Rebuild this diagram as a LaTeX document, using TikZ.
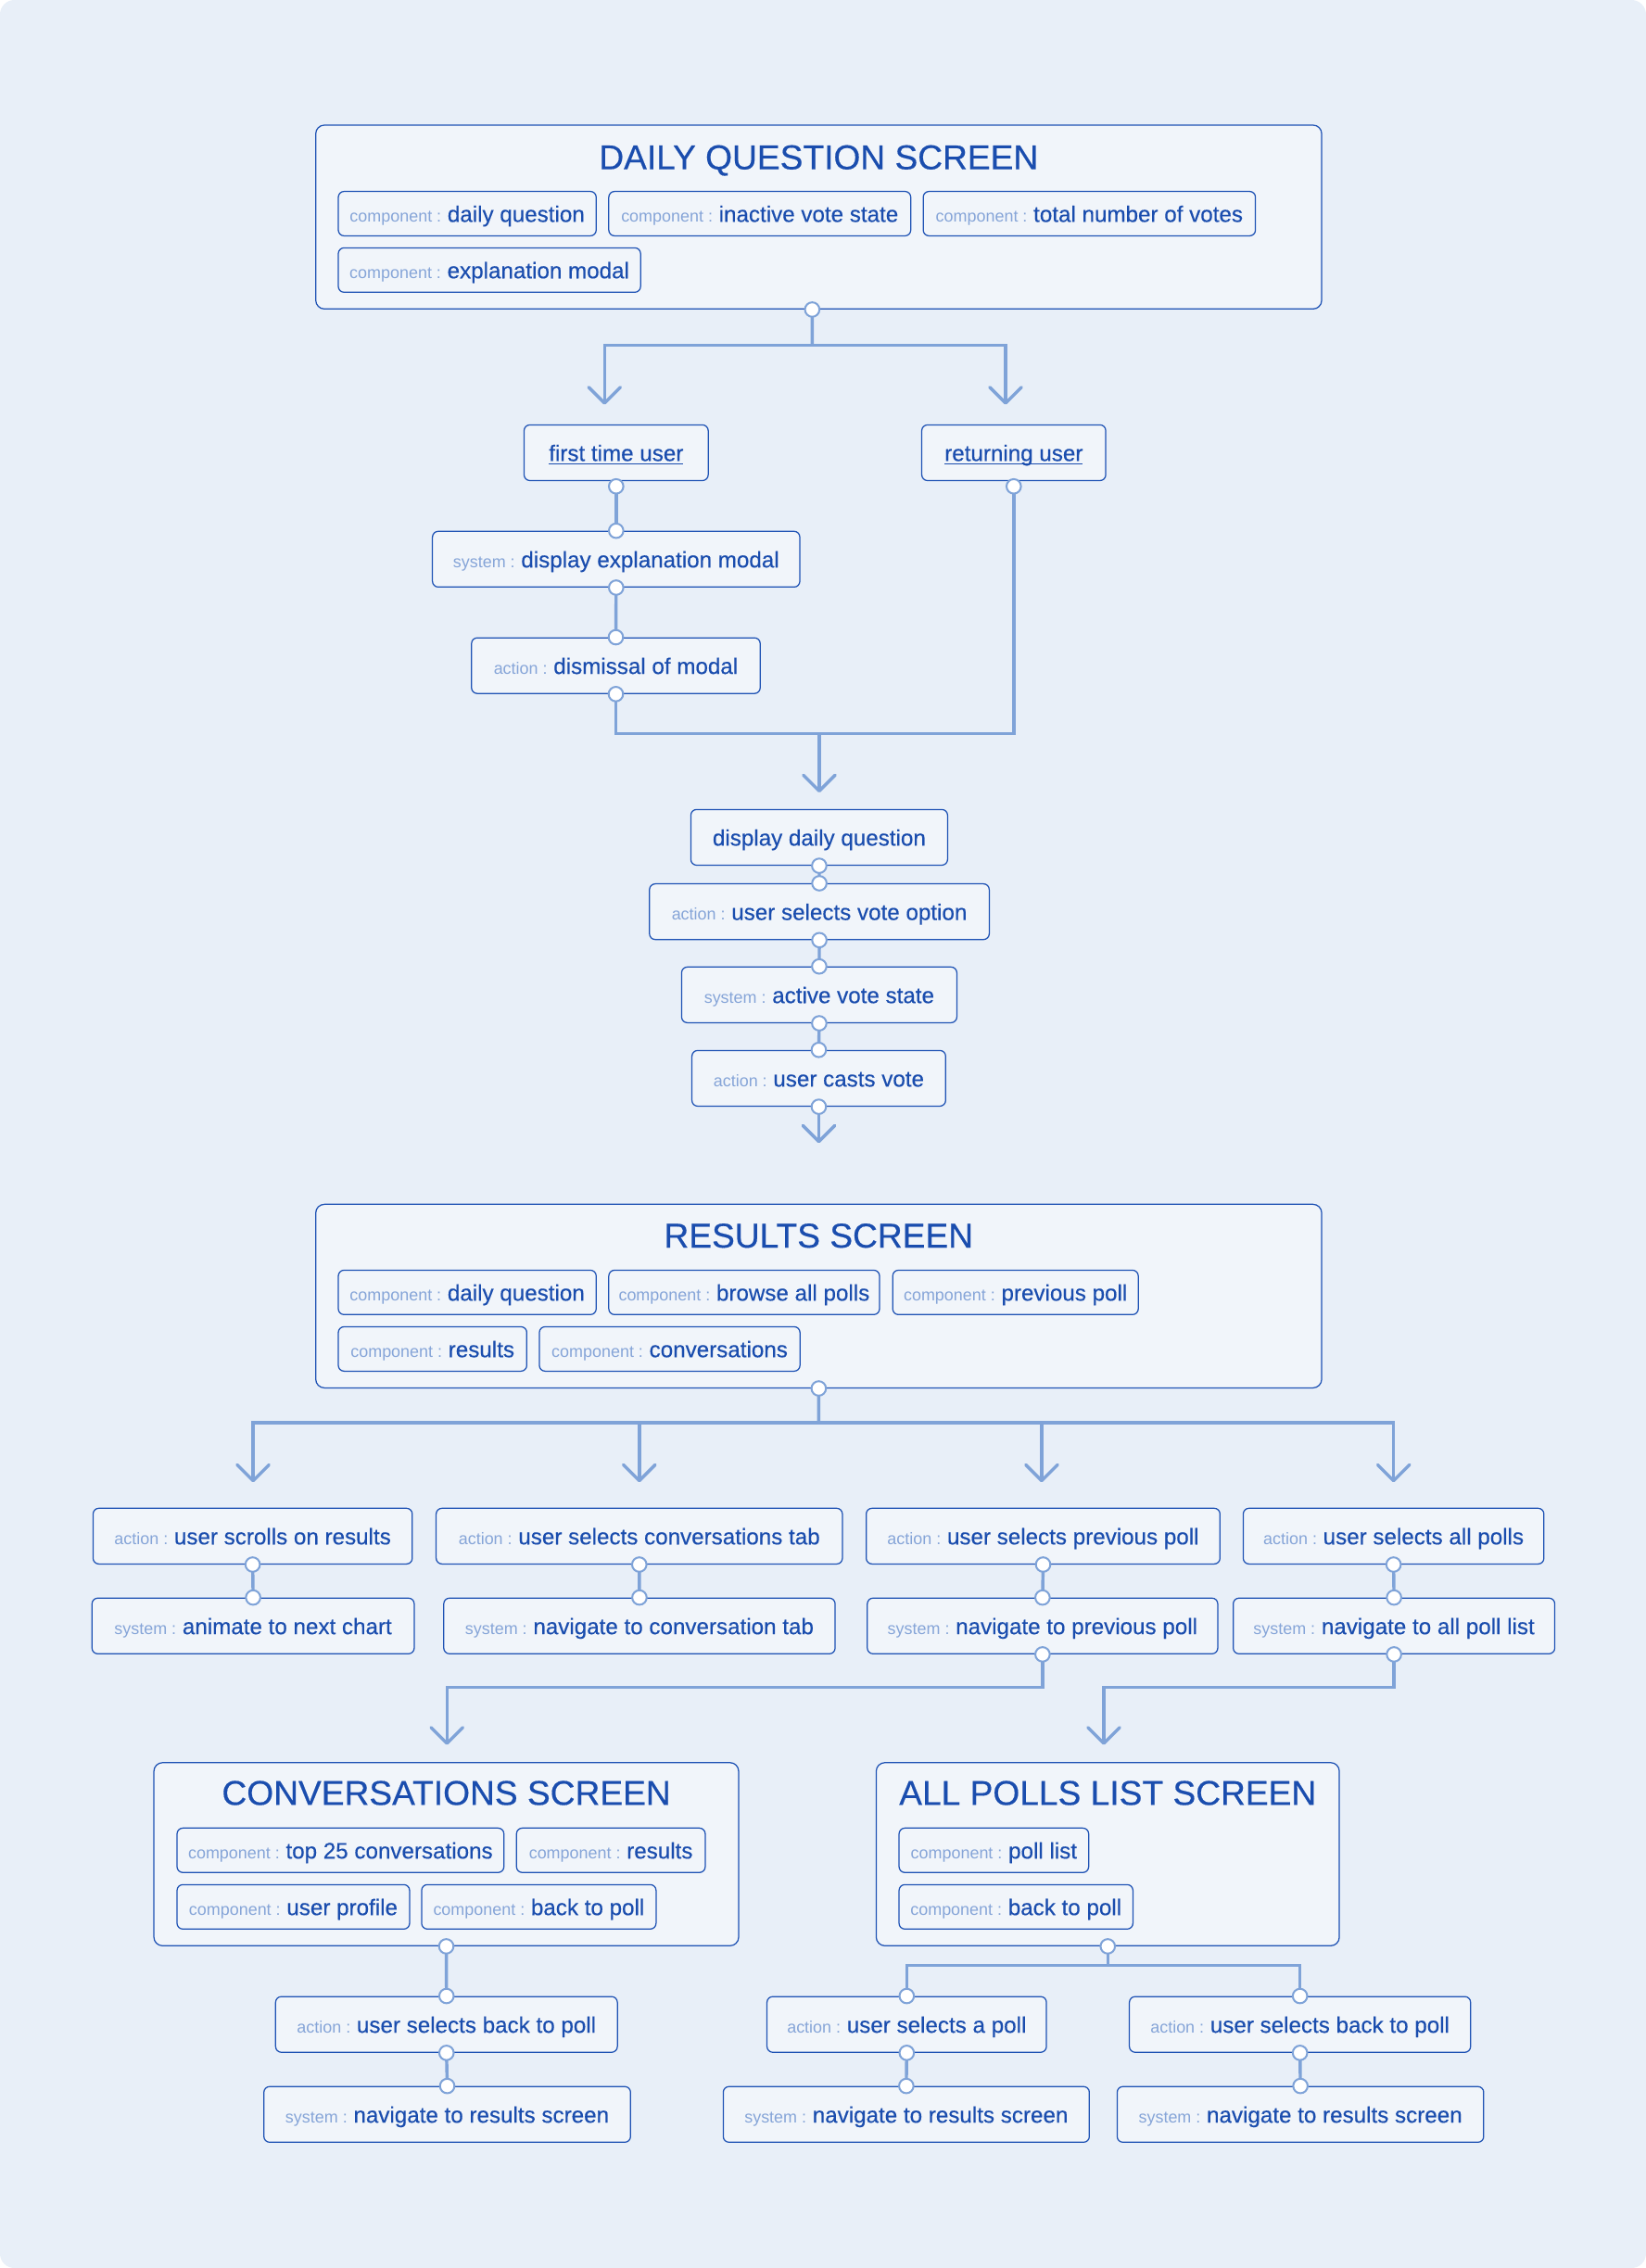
\documentclass[tikz,border=0pt]{standalone}
\usepackage{fontspec}
\setmainfont{Liberation Sans}
\newfontfamily\medfam{Liberation Sans}[FakeBold=0.35]
\usetikzlibrary{arrows.meta}
\definecolor{bgc}{HTML}{E8EFF8}
\definecolor{boxfill}{HTML}{F1F5FA}
\definecolor{bord}{HTML}{1E52B4}
\definecolor{valc}{HTML}{1A4DAE}
\definecolor{pfxc}{HTML}{86A5D8}
\definecolor{connc}{HTML}{7FA3D8}
\newcommand{\pfxf}{\normalfont\fontsize{11.5}{13}\selectfont\color{pfxc}}
\newcommand{\valf}{\medfam\fontsize{15.5}{18}\selectfont}
\newcommand{\ttlf}{\medfam\fontsize{23.8}{28}\selectfont}
\newcommand{\lbl}[2]{{\pfxf #1 : }#2}
\newcommand{\ulx}[1]{\setbox0=\hbox{#1}\rlap{\rule[-2.4pt]{\wd0}{0.9pt}}\box0}
\tikzset{
  bigbox/.style 2 args={draw=bord, fill=boxfill, rounded corners=6, line width=0.8, inner sep=0, minimum width=#1, minimum height=#2},
  comp/.style={draw=bord, fill=boxfill, rounded corners=4, line width=0.8, inner sep=0, minimum height=30.7, minimum width=#1, text height=14, text depth=2.6, anchor=west, font=\valf, text=valc},
  flow/.style={draw=bord, fill=boxfill, rounded corners=4, line width=0.8, inner sep=0, minimum height=38.5, minimum width=#1, text height=14, text depth=2.6, font=\valf, text=valc},
  ttl/.style={font=\ttlf, text=valc, anchor=base, inner sep=0},
  conn/.style={draw=connc, line width=2.2},
  arr/.style={conn, -{Straight Barb[length=11pt, width=22pt, round]}},
  dot/.style={draw=connc, fill=white, line width=1.3}
}
\begin{document}
\begin{tikzpicture}[x=1pt,y=-1pt]
\useasboundingbox (0,0) rectangle (1138,1568);
\fill[white] (0,0) rectangle (1138,1568);
\fill[bgc, rounded corners=10] (0,0) rectangle (1138,1568);

% ---------- Daily question screen ----------
\node[bigbox={695.5}{127.1}] (DQ) at (566.05,150.05) {};
\node[ttl] (DQt) at (566,117) {DAILY QUESTION SCREEN};
\node[comp=178.3] (dq1) at (233.5,147.7) {\lbl{component}{daily question}};
\node[comp=208.8] (dq2) at (420.5,147.7) {\lbl{component}{inactive vote state}};
\node[comp=229.7] (dq3) at (637.9,147.7) {\lbl{component}{total number of votes}};
\node[comp=209] (dq4) at (233.5,186.7) {\lbl{component}{explanation modal}};

\node[flow=127.3] (fu) at (426,313) {\ulx{first time user}};
\node[flow=127.2] (ru) at (700.9,313) {\ulx{returning user}};
\node[flow=254] (sem) at (426,386.6) {\lbl{system}{display explanation modal}};
\node[flow=199.6] (dm) at (425.8,460.2) {\lbl{action}{dismissal of modal}};

\node[flow=177.5] (ddq) at (566.4,578.9) {display daily question};
\node[flow=234.9] (usv) at (566.5,630.3) {\lbl{action}{user selects vote option}};
\node[flow=190.3] (avs) at (566.4,687.8) {\lbl{system}{active vote state}};
\node[flow=175.4] (ucv) at (566.1,745.5) {\lbl{action}{user casts vote}};

% ---------- Results screen ----------
\node[bigbox={695.5}{126.9}] (RS) at (566.05,896.05) {};
\node[ttl] (RSt) at (566,862.5) {RESULTS SCREEN};
\node[comp=178.3] (r1) at (233.5,893.5) {\lbl{component}{daily question}};
\node[comp=187.2] (r2) at (420.5,893.5) {\lbl{component}{browse all polls}};
\node[comp=169.8] (r3) at (616.8,893.5) {\lbl{component}{previous poll}};
\node[comp=130.3] (r4) at (233.5,932.6) {\lbl{component}{results}};
\node[comp=180.2] (r5) at (372.5,932.6) {\lbl{component}{conversations}};

\node[flow=220.7] (a1) at (174.7,1062) {\lbl{action}{user scrolls on results}};
\node[flow=222.8] (s1) at (175,1124.1) {\lbl{system}{animate to next chart}};
\node[flow=280.9] (a2) at (442,1062) {\lbl{action}{user selects conversations tab}};
\node[flow=270.6] (s2) at (442.1,1124.1) {\lbl{system}{navigate to conversation tab}};
\node[flow=244.6] (a3) at (721.2,1062) {\lbl{action}{user selects previous poll}};
\node[flow=242.3] (s3) at (720.8,1124.1) {\lbl{system}{navigate to previous poll}};
\node[flow=207.9] (a4) at (963.5,1062) {\lbl{action}{user selects all polls}};
\node[flow=222.3] (s4) at (963.8,1124.1) {\lbl{system}{navigate to all poll list}};

% ---------- Conversations screen ----------
\node[bigbox={404.3}{126.6}] (CS) at (308.55,1281.9) {};
\node[ttl] (CSt) at (308.6,1247.8) {CONVERSATIONS SCREEN};
\node[comp=226] (cs1) at (122,1279.2) {\lbl{component}{top 25 conversations}};
\node[comp=130.5] (cs2) at (356.7,1279.2) {\lbl{component}{results}};
\node[comp=160.8] (cs3) at (122,1318.3) {\lbl{component}{user profile}};
\node[comp=162.1] (cs4) at (291.1,1318.3) {\lbl{component}{back to poll}};
\node[flow=236.3] (cb) at (308.7,1399.6) {\lbl{action}{user selects back to poll}};
\node[flow=253.5] (cn) at (309.2,1461.8) {\lbl{system}{navigate to results screen}};

% ---------- All polls list screen ----------
\node[bigbox={320.2}{126.6}] (AP) at (765.9,1281.9) {};
\node[ttl] (APt) at (765.9,1247.8) {ALL POLLS LIST SCREEN};
\node[comp=131.1] (ap1) at (621.2,1279.2) {\lbl{component}{poll list}};
\node[comp=161.7] (ap2) at (621.2,1318.3) {\lbl{component}{back to poll}};
\node[flow=193.2] (pa) at (626.9,1399.6) {\lbl{action}{user selects a poll}};
\node[flow=235.9] (pb) at (898.8,1399.6) {\lbl{action}{user selects back to poll}};
\node[flow=253.1] (pn1) at (626.6,1461.8) {\lbl{system}{navigate to results screen}};
\node[flow=253.4] (pn2) at (899.1,1461.8) {\lbl{system}{navigate to results screen}};

% ---------- coordinates ----------
\coordinate (dqo) at ([xshift=-4.5pt]DQ.south);
\coordinate (b1) at (561.5,238.8);
\coordinate (t1) at (418,279.8);
\coordinate (t2) at (695.3,279.8);
\coordinate (fuo) at ([yshift=-3.6pt]fu.south);
\coordinate (ruo) at ([yshift=-3.6pt]ru.south);
\coordinate (m1) at (566.4,507);
\coordinate (t3) at (566.4,548);
\coordinate (t4) at (566.1,790.3);
\coordinate (rb) at (566.1,983.6);
\coordinate (u1) at (175,1024.8);
\coordinate (u2) at (442,1024.8);
\coordinate (u3) at (720.2,1024.8);
\coordinate (u4) at (963.5,1024.8);
\coordinate (k1m) at (309,1166.4);
\coordinate (k1) at (309,1206.4);
\coordinate (k2m) at (763.2,1166.4);
\coordinate (k2) at (763.2,1206.4);
\coordinate (apb) at (765.9,1358.9);

% ---------- connectors ----------
\draw[conn] (dqo) -- (b1);
\draw[arr] (b1) -| (t1);
\draw[arr] (b1) -| (t2);
\draw[conn] (fuo) -- (sem.north);
\draw[conn] (sem.south) -- (dm.north);
\draw[conn] (dm.south) |- (m1) -| (ruo);
\draw[arr] (m1) -- (t3);
\draw[conn] (ddq.south) -- (usv.north);
\draw[conn] (usv.south) -- (avs.north);
\draw[conn] (avs.south) -- (ucv.north);
\draw[arr] (ucv.south) -- (t4);

\draw[conn] (RS.south) -- (rb);
\draw[arr] (rb) -| (u1);
\draw[arr] (rb) -| (u2);
\draw[arr] (rb) -| (u3);
\draw[arr] (rb) -| (u4);
\draw[conn] (a1.south) -- (s1.north);
\draw[conn] (a2.south) -- (s2.north);
\draw[conn] (a3.south) -- (s3.north);
\draw[conn] (a4.south) -- (s4.north);
\draw[arr] (s3.south) |- (k1m) -- (k1);
\draw[arr] (s4.south) |- (k2m) -- (k2);

\draw[conn] (CS.south) -- (cb.north);
\draw[conn] (cb.south) -- (cn.north);
\draw[conn] (AP.south) -- (apb);
\draw[conn] (apb) -| (pa.north);
\draw[conn] (apb) -| (pb.north);
\draw[conn] (pa.south) -- (pn1.north);
\draw[conn] (pb.south) -- (pn2.north);

% ---------- connector end dots ----------
\foreach \p in {dqo, fuo, ruo, sem.north, sem.south, dm.north, dm.south,
  ddq.south, usv.north, usv.south, avs.north, avs.south, ucv.north, ucv.south,
  RS.south, a1.south, a2.south, a3.south, a4.south,
  s1.north, s2.north, s3.north, s4.north, s3.south, s4.south,
  CS.south, cb.north, cb.south, cn.north,
  AP.south, pa.north, pa.south, pb.north, pb.south, pn1.north, pn2.north}
  \draw[dot] (\p) circle[radius=5pt];
\end{tikzpicture}
\end{document}
